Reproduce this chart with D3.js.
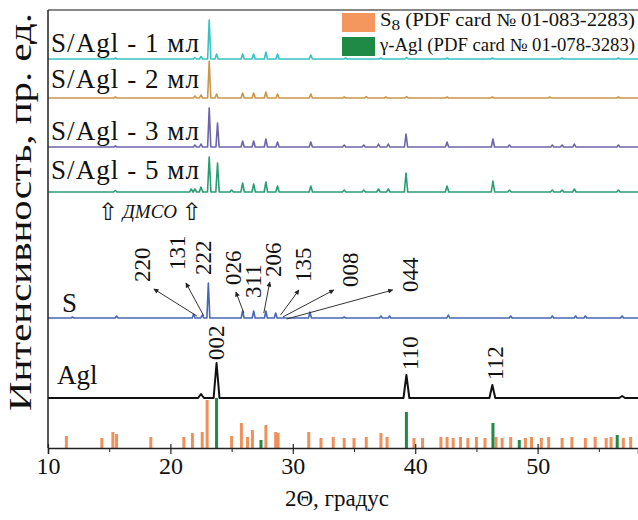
<!DOCTYPE html>
<html><head><meta charset="utf-8">
<script src="https://cdn.jsdelivr.net/npm/d3@7"></script>
<style>
html,body{margin:0;padding:0;background:#fff;}
svg{display:block;}
svg text{font-family:"Liberation Serif","Times New Roman",serif;fill:#111;}
</style></head>
<body>
<svg id="chart" width="638" height="520" font-family="Liberation Serif"></svg>
<script>
// ---------- data (2θ in degrees, intensity in arbitrary units) ----------
const xTicks = [10, 20, 30, 40, 50];
const xMinorTicks = [15, 25, 35, 45, 55];
const seriesNames = ["S/Agl - 1 мл", "S/Agl - 2 мл", "S/Agl - 3 мл", "S/Agl - 5 мл", "S", "Agl"];
const seriesOffsets = [389, 350, 301, 256, 130, 50];

// peaks: [2θ, height]
const peaks1ml = [[15.5,1],[22.0,1.5],[22.5,2.5],[23.17,39],[23.77,5],[25.9,5],[26.8,5],[27.8,7],[28.75,5],[31.47,4],[34.3,1],[37.2,1],[39.3,1.5],[42.6,1],[46.3,1],[52.0,1],[56.6,1]];
const peaks2ml = [[15.5,1],[22.0,2],[22.5,3],[23.17,37],[23.77,4],[25.9,5],[26.8,5],[27.8,6],[28.75,4],[31.47,4],[34.2,1],[36.0,1.5],[37.6,1],[39.3,1.5],[42.6,1],[46.3,1],[51.0,1],[56.6,1]];
const peaks3ml = [[15.5,1],[22.0,2],[22.5,3],[23.17,39],[23.85,24],[25.9,6],[26.8,6],[27.8,8],[28.75,5],[31.47,5],[34.2,2],[35.8,2],[37.0,3],[37.8,3],[39.25,13],[42.6,5],[46.35,8],[47.7,2],[51.2,2],[52.0,2],[53.0,3],[56.6,2]];
const peaks5ml = [[15.5,1.5],[21.7,3],[22.0,3],[22.5,5],[23.17,35],[23.85,29],[25.0,2],[25.9,9],[26.8,8],[27.8,10],[28.75,6],[31.47,6],[34.2,2],[35.8,2],[37.0,3],[37.8,3],[39.25,19],[42.6,6],[46.35,11],[47.7,2],[51.2,2],[52.0,2],[53.0,3],[56.6,2]];
const peaksS = [[12.0,1],[15.6,2],[21.9,4],[22.6,3],[23.1,35],[25.9,7],[26.8,7],[27.8,7],[28.6,5],[31.4,6],[34.2,1],[37.2,2],[37.9,2],[42.7,3],[47.8,2],[51.2,2],[53.1,2],[53.9,2],[56.9,2]];
const peaksAgl = [[22.5,4],[23.77,35],[39.28,23],[46.3,13],[56.9,2]];

// reference stick patterns: [2θ, height]
const sticksS8 = [[11.5,12],[14.4,10],[15.3,16],[15.6,14],[18.4,11],[21.1,11],[21.8,15],[22.6,16],[23.0,48],[25.0,12],[25.8,25],[26.3,11],[26.7,18],[27.8,23],[28.6,16],[28.8,15],[31.3,16],[32.3,10],[33.3,11],[34.2,10],[35.0,10],[36.0,11],[37.2,15],[37.7,11],[39.9,10],[40.6,10],[42.1,11],[42.6,11],[43.1,10],[43.7,11],[44.3,10],[45.0,11],[45.7,10],[46.6,11],[47.1,10],[47.8,11],[49.0,10],[49.5,11],[50.3,10],[50.9,11],[52.0,10],[52.8,11],[53.9,10],[54.7,11],[55.6,10],[56.0,11],[57.0,10],[57.6,11]];
const sticksAgl = [[23.77,50],[27.4,8],[39.28,36],[46.35,25],[48.5,8],[56.5,13]];

// Miller index labels: [text, label 2θ, label bottom intensity, arrow from 2θ, from intensity, arrow to 2θ, to intensity]
const millerS = [
  ["220",17.67,166,22.16,132,18.65,159],
  ["131",20.53,178,22.73,132,21.27,165],
  ["222",22.65,173,null,null,null,null],
  ["026",25.10,163,26.00,135,25.35,156],
  ["311",26.73,150,null,null,null,null],
  ["206",28.37,171,27.63,135,28.12,166],
  ["135",30.82,166,29.00,133,30.50,158],
  ["008",34.65,161,29.18,131,33.35,158],
  ["044",39.55,156,29.50,129,38.16,158]
];
const millerAgl = [["002",23.71,88],["110",39.55,78],["112",46.49,68]];

const legendLabels = ["S8 (PDF card № 01-083-2283)", "γ-Agl (PDF card № 01-078-3283)"];

// ---------- drawing ----------
const FONT = "Liberation Serif";
const svg = d3.select("#chart");
const x = d3.scaleLinear().domain([10, 58.2]).range([48, 638]);
const y = d3.scaleLinear().domain([0, 438]).range([448, 10]);

const colors = ["#36c2c4", "#c9964a", "#6c64aa", "#2a9c72", "#4767b2", "#111111"];
const widths = [0.13, 0.13, 0.13, 0.14, 0.12, 0.24];
const allPeaks = [peaks1ml, peaks2ml, peaks3ml, peaks5ml, peaksS, peaksAgl];

const line = d3.line().x(d => x(d[0])).y(d => y(d[1]));

allPeaks.forEach((pk, i) => {
  const off = seriesOffsets[i], w = widths[i];
  const pts = [[10, off]];
  pk.slice().sort((a,b)=>a[0]-b[0]).forEach(p => {
    pts.push([p[0]-w, off], [p[0], off + p[1]], [p[0]+w, off]);
  });
  pts.push([58.2, off]);
  svg.append("path").attr("d", line(pts)).attr("fill","none")
    .attr("stroke", colors[i]).attr("stroke-width", i===5?2:1.6).attr("stroke-linejoin","round");
});

// sticks
const stickColors = ["#f0915c", "#1f8a45"];
[sticksS8, sticksAgl].forEach((st, i) => {
  svg.append("g").selectAll("rect").data(st).join("rect")
    .attr("x", d => x(d[0]) - 1.5).attr("width", 3)
    .attr("y", d => y(d[1])).attr("height", d => y(0) - y(d[1]))
    .attr("fill", stickColors[i]);
});

// frame
svg.append("line").attr("x1",48).attr("x2",638).attr("y1",10).attr("y2",10).attr("stroke","#888").attr("stroke-width",2);
svg.append("line").attr("x1",48).attr("x2",48).attr("y1",10).attr("y2",448).attr("stroke","#222").attr("stroke-width",1.5);

// x axis
const ax = svg.append("g").attr("transform",`translate(0,${y(0)})`)
  .call(d3.axisBottom(x).tickValues(xTicks).tickSize(6).tickFormat(d3.format("d")));
ax.attr("font-family", FONT);
ax.select(".domain").attr("stroke","#222").attr("stroke-width",1.5);
ax.selectAll(".tick line").attr("y1",-4).attr("stroke","#222").attr("stroke-width",1.2);
ax.selectAll(".tick text").attr("font-size",24).attr("font-family",FONT).attr("fill","#111");
svg.append("g").attr("transform",`translate(0,${y(0)})`)
  .call(d3.axisBottom(x).tickValues(xMinorTicks).tickSize(4).tickFormat(""))
  .call(g => { g.select(".domain").remove(); g.selectAll(".tick line").attr("stroke","#222"); });

svg.append("text").attr("x",337).attr("y",506).attr("text-anchor","middle").attr("font-size",23).attr("font-family",FONT).text("2Θ, градус");
svg.append("text").attr("transform","translate(31,212) rotate(-90)").attr("text-anchor","middle")
  .attr("font-family",FONT).attr("font-size",31).attr("textLength",398).attr("lengthAdjust","spacingAndGlyphs").text("Интенсивность, пр. ед.");

// series labels
const labelBase = [52, 88, 140, 179, 312, 384];
seriesNames.forEach((n, i) => {
  const t = svg.append("text").attr("font-family",FONT).attr("x", i===4?62:(i===5?57:51)).attr("y", labelBase[i]).attr("font-size",27).text(n);
  if (i < 4) t.attr("textLength",148).attr("lengthAdjust","spacing");
});

// DMSO
svg.append("text").attr("x", x(14.9)).attr("y", 220).attr("text-anchor","middle")
  .style("font-family","DejaVu Sans").attr("font-size",24).text("⇧");
svg.append("text").attr("x", x(21.75)).attr("y", 220).attr("text-anchor","middle")
  .style("font-family","DejaVu Sans").attr("font-size",24).text("⇧");
svg.append("text").attr("x", (x(14.9)+x(21.75))/2).attr("y", 218).attr("text-anchor","middle")
  .attr("font-family",FONT).attr("font-size",19).attr("font-style","italic").text("ДМСО");

// arrows
svg.append("defs").append("marker").attr("id","ah").attr("viewBox","0 0 10 10")
  .attr("refX",9).attr("refY",5).attr("markerWidth",7).attr("markerHeight",5).attr("orient","auto")
  .append("path").attr("d","M0,0 L10,5 L0,10 z").attr("fill","#222");

millerS.forEach(m => {
  if (m[3] !== null) {
    svg.append("line").attr("x1",x(m[3])).attr("y1",y(m[4])).attr("x2",x(m[5])).attr("y2",y(m[6]))
      .attr("stroke","#333").attr("stroke-width",1).attr("marker-end","url(#ah)");
  }
  svg.append("text").attr("font-family",FONT).attr("transform",`translate(${x(m[1])},${y(m[2])}) rotate(-90)`)
    .attr("dy","0.35em").attr("font-size",23).text(m[0]);
});
millerAgl.forEach(m => {
  svg.append("text").attr("font-family",FONT).attr("transform",`translate(${x(m[1])},${y(m[2])}) rotate(-90)`)
    .attr("dy","0.35em").attr("font-size",23).text(m[0]);
});

// legend
const lg = svg.append("g").attr("font-family",FONT);
lg.append("rect").attr("x",342).attr("y",13).attr("width",33).attr("height",19).attr("fill","#f4975f");
lg.append("rect").attr("x",342).attr("y",37).attr("width",33).attr("height",19).attr("fill","#1f8a45");
const t1 = lg.append("text").attr("x",380).attr("y",26).attr("font-size",18).attr("textLength",255).attr("lengthAdjust","spacingAndGlyphs");
t1.append("tspan").text("S");
t1.append("tspan").attr("dy",4).attr("font-size",15).text("8");
t1.append("tspan").attr("dy",-4).text(" (PDF card № 01-083-2283)");
lg.append("text").attr("x",380).attr("y",51).attr("font-size",18).attr("textLength",255).attr("lengthAdjust","spacingAndGlyphs").text(legendLabels[1]);
</script>
</body></html>
